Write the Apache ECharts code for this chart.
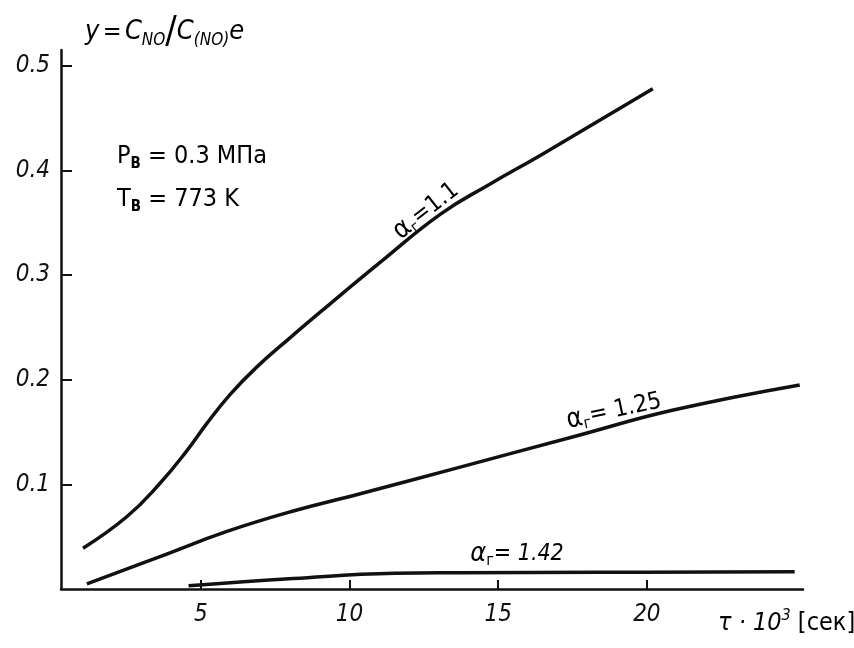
<!DOCTYPE html>
<html>
<head>
<meta charset="utf-8">
<script src="https://cdn.jsdelivr.net/npm/echarts@6/dist/echarts.min.js"></script>
<style>
html,body{margin:0;padding:0;background:#fff;}
#chart{width:854px;height:648px;}
</style>
</head>
<body>
<div id="chart"></div>
<script>
// ---- data ----
const xTicks = [5, 10, 15, 20];
const yTicks = [0.1, 0.2, 0.3, 0.4, 0.5];

const tau11 = [1.04, 2.51, 3.63, 4.53, 5.2, 5.99, 6.88, 8.0, 9.12, 11.03, 13.05, 14.73, 16.4, 20.2];
const y11   = [0.039, 0.069, 0.101, 0.132, 0.158, 0.186, 0.212, 0.240, 0.267, 0.312, 0.358, 0.387, 0.414, 0.478];

const tau125 = [1.17, 3.63, 5.88, 8.11, 10.36, 13.66, 17.53, 20.89, 25.14];
const y125   = [0.005, 0.031, 0.055, 0.0745, 0.091, 0.116, 0.1455, 0.171, 0.195];

const tau142 = [4.59, 8.11, 11.53, 13.72, 18.4, 24.97];
const y142   = [0.003, 0.010, 0.015, 0.0155, 0.016, 0.0165];

const labelA11  = '1.1';
const labelA125 = '1.25';
const labelA142 = '1.42';

const FONT = "'Liberation Sans Narrow', 'DejaVu Sans Condensed', 'Liberation Sans', sans-serif";
const INK = '#111';

function zip(xs, ys) { return xs.map((x, i) => [x, ys[i]]); }

const chart = echarts.init(document.getElementById('chart'), null, {renderer: 'canvas'});

const lineSeries = (data) => ({
  type: 'line',
  data: data,
  smooth: 0.45,
  symbol: 'none',
  lineStyle: {color: INK, width: 3.5},
  silent: true
});

const alphaRich = {
  a: {fontFamily: FONT, fontSize: 27, color: INK, lineHeight: 30},
  s: {fontFamily: FONT, fontSize: 16, color: INK, verticalAlign: 'bottom', lineHeight: 16},
  t: {fontFamily: FONT, fontSize: 24, color: INK, lineHeight: 30}
};
const alphaRichIt = {
  a: {fontFamily: FONT, fontSize: 27, color: INK, lineHeight: 30, fontStyle: 'italic'},
  s: {fontFamily: FONT, fontSize: 16, color: INK, verticalAlign: 'bottom', lineHeight: 16},
  t: {fontFamily: FONT, fontSize: 23, color: INK, lineHeight: 30, fontStyle: 'italic'}
};

chart.setOption({
  animation: false,
  backgroundColor: '#fff',
  grid: {left: 61, right: 51, top: 50, bottom: 59, containLabel: false, outerBoundsMode: 'none'},
  xAxis: {
    type: 'value',
    min: 0.3,
    max: 25.25,
    axisLine: {show: true, lineStyle: {color: INK, width: 2.5}},
    axisTick: {show: true, inside: true, length: 9, customValues: xTicks, lineStyle: {color: INK, width: 2}},
    axisLabel: {
      customValues: xTicks,
      margin: 14,
      fontFamily: FONT, fontSize: 24, fontStyle: 'italic', color: INK,
      formatter: v => String(v)
    },
    splitLine: {show: false}
  },
  yAxis: {
    type: 'value',
    min: 0,
    max: 0.515,
    axisLine: {show: true, lineStyle: {color: INK, width: 2.5}},
    axisTick: {show: true, inside: true, length: 11, customValues: yTicks, lineStyle: {color: INK, width: 2}},
    axisLabel: {
      customValues: yTicks,
      margin: 11,
      fontFamily: FONT, fontSize: 24, fontStyle: 'italic', color: INK,
      formatter: v => v.toFixed(1)
    },
    splitLine: {show: false}
  },
  series: [
    lineSeries(zip(tau11, y11)),
    lineSeries(zip(tau125, y125)),
    lineSeries(zip(tau142, y142))
  ],
  graphic: [
    {
      type: 'text', left: 85, top: 13, silent: true,
      style: {
        text: '{i|y} {n|=} {i|C}{s|NO}{sl|/}{i|C}{s|(NO)}{i|e}',
        rich: {
          i: {fontFamily: FONT, fontSize: 27, fontStyle: 'italic', color: INK, lineHeight: 34},
          n: {fontFamily: FONT, fontSize: 25, color: INK, lineHeight: 34},
          s: {fontFamily: FONT, fontSize: 17, fontStyle: 'italic', color: INK, verticalAlign: 'bottom', lineHeight: 20},
          sl: {fontFamily: FONT, fontSize: 38, color: INK, lineHeight: 34}
        }
      }
    },
    {
      type: 'text', left: 117, top: 144, silent: true,
      style: {
        text: '{a|P}{s|В}{a| = 0.3 МПа}',
        rich: {
          a: {fontFamily: FONT, fontSize: 25, color: INK, lineHeight: 30},
          s: {fontFamily: FONT, fontSize: 15, fontWeight: 'bold', color: INK, verticalAlign: 'bottom', lineHeight: 14}
        }
      }
    },
    {
      type: 'text', left: 117, top: 187, silent: true,
      style: {
        text: '{a|T}{s|В}{a| = 773 K}',
        rich: {
          a: {fontFamily: FONT, fontSize: 25, color: INK, lineHeight: 30},
          s: {fontFamily: FONT, fontSize: 15, fontWeight: 'bold', color: INK, verticalAlign: 'bottom', lineHeight: 14}
        }
      }
    },
    {
      type: 'text', left: 718, top: 608, silent: true,
      style: {
        text: '{i|τ · 10}{p|3}{n| [сек]}',
        rich: {
          i: {fontFamily: FONT, fontSize: 25, fontStyle: 'italic', color: INK, lineHeight: 30},
          p: {fontFamily: FONT, fontSize: 16, fontStyle: 'italic', color: INK, verticalAlign: 'top', lineHeight: 16},
          n: {fontFamily: FONT, fontSize: 25, color: INK, lineHeight: 30}
        }
      }
    },
    {
      type: 'text', x: 426, y: 211, rotation: 38 * Math.PI / 180, silent: true,
      style: {
        text: '{a|α}{s|г}{t|=' + labelA11 + '}',
        align: 'center', verticalAlign: 'middle',
        rich: alphaRich
      }
    },
    {
      type: 'text', x: 614, y: 411, rotation: 12 * Math.PI / 180, silent: true,
      style: {
        text: '{a|α}{s|г}{t|= ' + labelA125 + '}',
        align: 'center', verticalAlign: 'middle',
        rich: alphaRich
      }
    },
    {
      type: 'text', x: 517, y: 554, silent: true,
      style: {
        text: '{a|α}{s|г}{t|= ' + labelA142 + '}',
        align: 'center', verticalAlign: 'middle',
        rich: alphaRichIt
      }
    }
  ]
});
</script>
</body>
</html>
